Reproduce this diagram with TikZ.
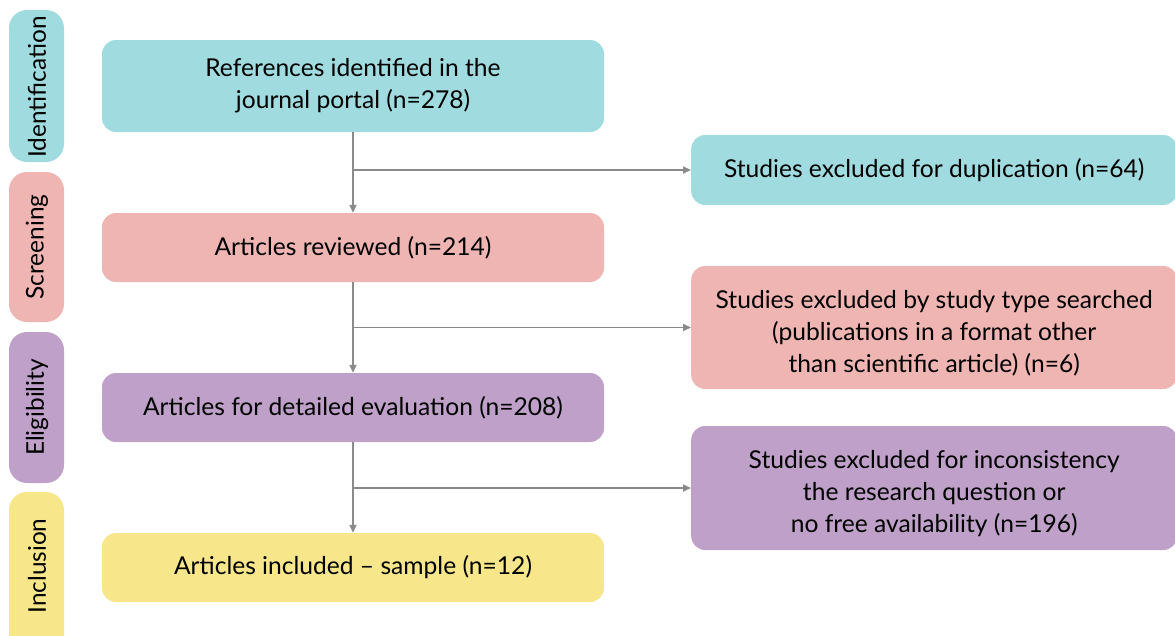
\documentclass[tikz,border=0pt]{standalone}
\usepackage{fontspec}
\setmainfont{Lato}
\usetikzlibrary{arrows.meta}
\definecolor{cteal}{HTML}{A0DCDF}
\definecolor{cpink}{HTML}{EFB5B3}
\definecolor{cpurp}{HTML}{BEA0C8}
\definecolor{cyell}{HTML}{F7E68A}
\definecolor{carrow}{HTML}{8A8A8A}
\newcommand{\toppad}{\rule{0pt}{30pt}}
\tikzset{
  box/.style={rounded corners=14pt, inner sep=0pt, align=center, font=\fontsize{24.6}{32}\selectfont, text=black},
  phase/.style={rounded corners=18pt, inner sep=0pt, font=\fontsize{24.4}{28}\selectfont, text=black},
  conn/.style={draw=carrow, line width=1.6pt, -{Triangle[length=8pt,width=7pt]}}
}
\begin{document}
\begin{tikzpicture}[x=1pt,y=-1pt]
\useasboundingbox (0,0) rectangle (1175,635);
% phase labels
\fill[cteal, rounded corners=18pt] (9,10) rectangle (64,162);
\node[phase, rotate=90] (pid) at (37,87) {Identification};
\fill[cpink, rounded corners=18pt] (9,172) rectangle (64,322);
\node[phase, rotate=90] (psc) at (37,247) {Screening};
\fill[cpurp, rounded corners=18pt] (9,332) rectangle (64,483);
\node[phase, rotate=90] (pel) at (37,407.5) {Eligibility};
\fill[cyell, rounded corners=18pt] (9,492) rectangle (64,660);
\node[phase, rotate=90] (pin) at (37,566) {Inclusion};
% main boxes
\node[box, fill=cteal, minimum width=502pt, minimum height=92pt] (b1) at (353,86) {References identified in the\\journal portal (n=278)};
\node[box, fill=cpink, minimum width=502pt, minimum height=69pt] (b2) at (353,247.5) {Articles reviewed (n=214)};
\node[box, fill=cpurp, minimum width=502pt, minimum height=69pt] (b3) at (353,407.5) {Articles for detailed evaluation (n=208)};
\node[box, fill=cyell, minimum width=502pt, minimum height=69pt] (b4) at (353,567.5) {Articles included -- sample (n=12)};
% right boxes
\node[box, fill=cteal, minimum width=486pt, minimum height=70pt, anchor=west] (r1) at (691,170) {Studies excluded for duplication (n=64)};
\node[box, fill=cpink, minimum width=486pt, minimum height=123pt, anchor=west] (r2) at (691,327.5) {\toppad Studies excluded by study type searched\\(publications in a format other\\than scientific article) (n=6)};
\node[box, fill=cpurp, minimum width=486pt, minimum height=124pt, anchor=west] (r3) at (691,488) {\toppad Studies excluded for inconsistency\\the research question or\\no free availability (n=196)};
% connectors
\coordinate (j1) at (b1.south |- r1.west);
\coordinate (j2) at (b2.south |- r2.west);
\coordinate (j3) at (b3.south |- r3.west);
\draw[conn] (b1.south) -- (b2.north);
\draw[conn] (j1) -- (r1.west);
\draw[conn] (b2.south) -- (b3.north);
\draw[conn] (j2) -- (r2.west);
\draw[conn] (b3.south) -- (b4.north);
\draw[conn] (j3) -- (r3.west);
\end{tikzpicture}
\end{document}
